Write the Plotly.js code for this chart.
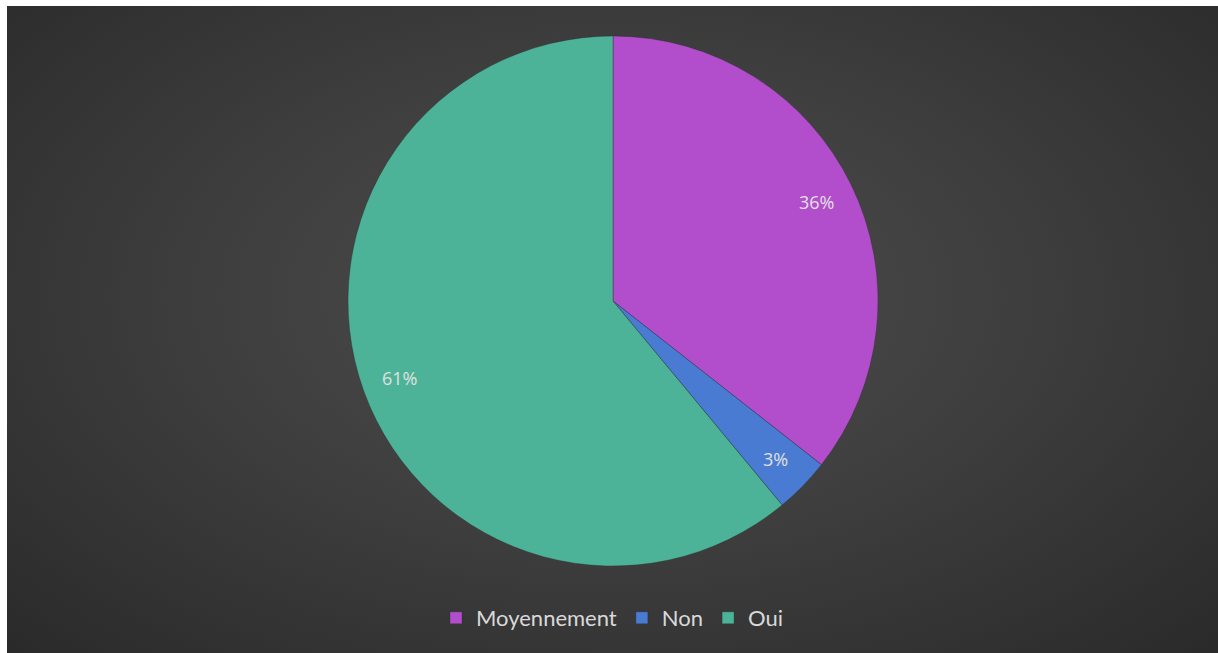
<!DOCTYPE html>
<html>
<head>
<meta charset="utf-8">
<script src="https://cdn.plot.ly/plotly-3.0.1.min.js"></script>
<style>
  html, body { margin: 0; padding: 0; background: #ffffff; }
  #chart {
    position: absolute; left: 7px; top: 6px; width: 1211px; height: 647px;
    background: radial-gradient(ellipse at 50% 45%, #4d4d4d 0%, #3f3f3f 45%, #2a2a2a 100%);
  }
</style>
</head>
<body>
<div id="chart"></div>
<script>
const categories = ["Moyennement", "Non", "Oui"];
const values = [21, 2, 36];
const colors = ["#b24ecb", "#4a7bd2", "#4db398"];

const W = 1211, H = 647;
const cx = 606, cy = 295, R = 265;
const domX = [(cx - R) / W, (cx + R) / W];
const domY = [(H - cy - R) / H, (H - cy + R) / H];

// label positions derived from the data (mid-angle of each slice)
const total = values.reduce((a, b) => a + b, 0);
const annotations = [];
let acc = 0;
values.forEach((v, i) => {
  const mid = (acc + v / 2) / total * 2 * Math.PI; // clockwise from 12 o'clock
  acc += v;
  const r = 0.855 * R;
  const px = cx + r * Math.sin(mid);
  const py = cy - r * Math.cos(mid);
  annotations.push({
    xref: "paper", yref: "paper",
    x: px / W, y: (H - py) / H,
    xanchor: "center", yanchor: "middle",
    text: Math.round(v / total * 100) + "%",
    showarrow: false,
    font: { family: "'Open Sans', Lato, sans-serif", size: 18, color: "#e0e0e0" }
  });
});

const trace = {
  type: "pie",
  labels: categories,
  values: values,
  sort: false,
  direction: "clockwise",
  rotation: 0,
  marker: { colors: colors, line: { color: "rgba(40,40,40,0.35)", width: 1 } },
  textinfo: "none",
  hoverinfo: "label+percent",
  domain: { x: domX, y: domY }
};

const layout = {
  width: W, height: H,
  margin: { l: 0, r: 0, t: 0, b: 0 },
  paper_bgcolor: "rgba(0,0,0,0)",
  plot_bgcolor: "rgba(0,0,0,0)",
  showlegend: true,
  legend: {
    orientation: "h",
    x: 0.5, xanchor: "center",
    y: 35 / H, yanchor: "middle",
    font: { family: "Lato, 'Open Sans', sans-serif", size: 22, color: "#d9d9d9" },
    itemwidth: 30,
    bgcolor: "rgba(0,0,0,0)"
  },
  annotations: annotations
};

Plotly.newPlot("chart", [trace], layout, { displayModeBar: false, staticPlot: true });
</script>
</body>
</html>
